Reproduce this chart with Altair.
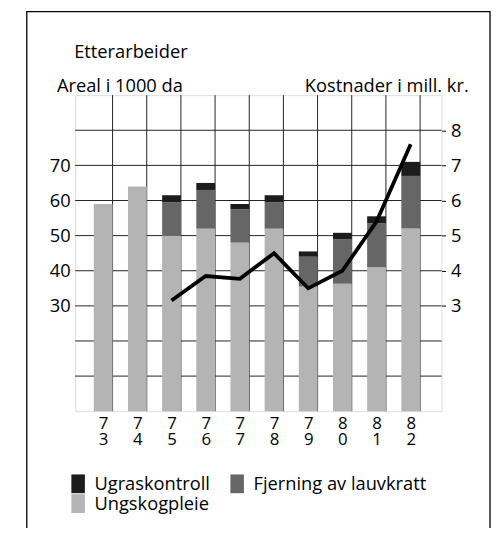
import altair as alt
import pandas as pd

# ---- data ----
years = [73, 74, 75, 76, 77, 78, 79, 80, 81, 82]
ungskogpleie = [59, 64, 50, 52, 48, 52, 35.5, 36.3, 41, 52]
fjerning = [0, 0, 9.5, 11, 9.5, 7.5, 8.5, 12.7, 12.5, 15]
ugraskontroll = [0, 0, 2, 2, 1.5, 2, 1.5, 1.8, 2, 4]

cost_years = [75, 76, 77, 78, 79, 80, 81, 82]
cost = [3.15, 3.85, 3.77, 4.5, 3.5, 4.0, 5.4, 7.6]

area_grid = [10, 20, 30, 40, 50, 60, 70, 80]
area_labels = [30, 40, 50, 60, 70]
cost_labels = [3, 4, 5, 6, 7, 8]

series = ["Ugraskontroll", "Fjerning av lauvkratt", "Ungskogpleie"]
colors = ["#1c1c1c", "#666666", "#b4b4b4"]

FONT = "Open Sans"
FS = 18.5

rows = []
for i, y in enumerate(years):
    rows.append({"year": y, "serie": "Ungskogpleie", "v": ungskogpleie[i], "ord": 0})
    rows.append({"year": y, "serie": "Fjerning av lauvkratt", "v": fjerning[i], "ord": 1})
    rows.append({"year": y, "serie": "Ugraskontroll", "v": ugraskontroll[i], "ord": 2})
bars_df = pd.DataFrame(rows)
cost_df = pd.DataFrame({"year": cost_years, "cost": cost})
grid_df = pd.DataFrame({"g": area_grid})
vgrid_df = pd.DataFrame({"year": years})

W, H = 371, 320
xscale = alt.Scale(domain=[72.325, 82.76], nice=False, zero=False)
area_scale = alt.Scale(domain=[0, 90], nice=False)
cost_scale = alt.Scale(domain=[0, 9], nice=False)

xaxis = alt.Axis(
    values=years, format="d", title=None, grid=False, domain=False, ticks=False,
    labelExpr="[slice(datum.label,0,1), slice(datum.label,1,2)]",
    labelFontSize=17, labelFont=FONT, labelPadding=4, labelLineHeight=17,
    labelColor="black",
)
X = alt.X("year:Q", scale=xscale, axis=xaxis)

frame = alt.Chart(pd.DataFrame({"a": [0]})).mark_rect(
    filled=False, stroke="black", strokeWidth=1.3
).encode(
    x=alt.value(-49), x2=alt.value(420), y=alt.value(-84.5), y2=alt.value(600)
)

heading = alt.Chart(pd.DataFrame({"t": ["Etterarbeider"]})).mark_text(
    align="left", baseline="alphabetic", font=FONT, fontSize=FS, color="black"
).encode(text="t:N", x=alt.value(-1), y=alt.value(-38))

hgrid = alt.Chart(grid_df).mark_rule(color="#222222", strokeWidth=1).encode(
    y=alt.Y("g:Q", scale=area_scale, axis=None)
)

vgrid = alt.Chart(vgrid_df).mark_rule(color="#222222", strokeWidth=1, xOffset=9.5).encode(
    x=X
)

bars = alt.Chart(bars_df).mark_bar(size=19).encode(
    x=X,
    y=alt.Y(
        "v:Q",
        stack="zero",
        scale=area_scale,
        axis=alt.Axis(
            values=area_labels, grid=False, domain=False, ticks=False,
            labelFontSize=FS, labelFont=FONT, labelPadding=5, labelColor="black",
            title="Areal i 1000 da", titleAngle=0, titleAlign="left",
            titleBaseline="alphabetic", titleX=-19, titleY=-4,
            titleFontSize=FS, titleFont=FONT, titleFontWeight="normal", titleColor="black",
        ),
    ),
    color=alt.Color(
        "serie:N",
        scale=alt.Scale(domain=series, range=colors),
        legend=alt.Legend(
            title=None, orient="none", legendX=-6.5, legendY=384, columns=2,
            direction="horizontal", padding=0, columnPadding=17, rowPadding=1,
            symbolType="M-0.72,-1H0.72V1H-0.72Z", symbolSize=361,
            symbolStrokeWidth=0, labelFontSize=FS, labelFont=FONT, labelOffset=7,
            labelColor="black", labelLimit=400,
        ),
    ),
    order=alt.Order("ord:Q"),
)

line = alt.Chart(cost_df).mark_line(color="black", strokeWidth=3.8).encode(
    x=X,
    y=alt.Y(
        "cost:Q",
        scale=cost_scale,
        axis=alt.Axis(
            orient="right", values=cost_labels, grid=False, domain=False,
            tickSize=4, tickColor="black", labelFontSize=FS, labelFont=FONT,
            labelPadding=5, labelColor="black",
            title="Kostnader i mill. kr.", titleAngle=0, titleAlign="left",
            titleBaseline="alphabetic", titleX=-139, titleY=-4,
            titleFontSize=FS, titleFont=FONT, titleFontWeight="normal", titleColor="black",
        ),
    ),
)

chart = (
    alt.layer(frame, heading, hgrid, vgrid, bars, line)
    .resolve_scale(y="independent")
    .properties(
        width=W,
        height=H,
        autosize=alt.AutoSizeParams(type="none"),
        padding={"left": 68, "top": 85, "right": 50, "bottom": 115},
    )
    .configure_view(stroke="black", strokeWidth=1)
    .configure(background="white")
)

chart.save("out.html", embed_options={"renderer": "svg", "actions": False})
